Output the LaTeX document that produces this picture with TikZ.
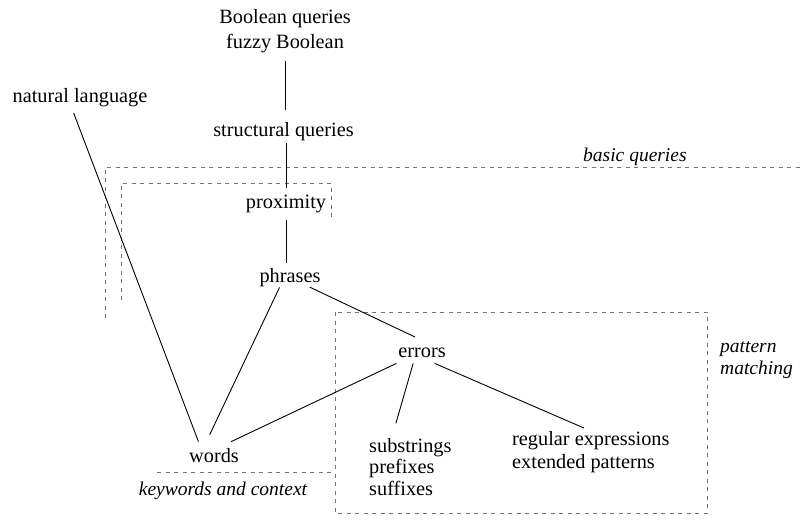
\documentclass[tikz,border=0pt]{standalone}
\usepackage{fontspec}
\setmainfont{Liberation Serif}
\begin{document}
\begin{tikzpicture}[x=1pt,y=-1pt,
  lbl/.style={inner sep=0pt, font=\fontsize{20.3}{24}\selectfont},
  itl/.style={inner sep=0pt, font=\fontsize{19.5}{22.5}\selectfont\itshape},
  edge/.style={line width=0.9pt, black},
  dbox/.style={draw=black!55, line width=0.8pt, dash pattern=on 4pt off 4.5pt}]
\useasboundingbox (0,0) rectangle (802,531);

% dashed regions
\draw[dbox] (105,318) -- (105,167) -- (802,167);
\draw[dbox] (121,300) -- (121,183) -- (331,183) -- (331,217);
\draw[dbox] (157,472) -- (335,472);
\draw[dbox] (335,312) rectangle (707,513);

% nodes
\node[lbl, anchor=north, align=center, font=\fontsize{20.3}{25}\selectfont] (bool) at (285,9) {Boolean queries\\fuzzy Boolean};
\node[lbl, anchor=base] (nat) at (80,102) {natural language};
\node[lbl, anchor=base] (struct) at (283.5,136) {structural queries};
\node[lbl, anchor=base] (prox) at (286,208) {proximity};
\node[lbl, anchor=base] (phr) at (290,282) {phrases};
\node[lbl, anchor=base] (err) at (422,357.5) {errors};
\node[lbl, anchor=base] (words) at (214,462) {words};
\node[lbl, anchor=north west, align=left, font=\fontsize{20.3}{21.5}\selectfont] (sub) at (369,438) {substrings\\prefixes\\suffixes};
\node[lbl, anchor=north west, align=left, font=\fontsize{20.3}{23}\selectfont] (regex) at (512,431) {regular expressions\\extended patterns};

% region labels
\node[itl, anchor=base west] (bq) at (583,161) {basic queries};
\node[itl, anchor=base] (kc) at (223,495) {keywords and context};
\node[itl, anchor=north west, align=left] (pm) at (720,341) {pattern\\matching};

% connectors
\draw[edge, shorten <=7.7pt, shorten >=12pt] (bool.south) -- (bool.south |- struct.north);
\draw[edge, shorten <=2.6pt, shorten >=6pt] (prox.north |- struct.south) -- (prox.north);
\draw[edge, shorten <=7.6pt, shorten >=5pt] (prox.south) -- (prox.south |- phr.north);
\draw[edge, shorten <=7pt, shorten >=6.5pt] (nat.227) -- (words.151);
\draw[edge, shorten <=1pt, shorten >=14.4pt] (phr.223) -- (words.145);
\draw[edge, shorten <=1.4pt, shorten >=25pt] (phr.-27) -- (err.18);
\draw[edge, shorten <=12.9pt, shorten >=14.3pt] (err.200) -- (words.60);
\draw[edge, shorten <=5.7pt, shorten >=15.4pt] (err.215) -- (sub.123);
\draw[edge, shorten <=13.7pt, shorten >=7.5pt] (err.south) -- (regex.north);
\end{tikzpicture}
\end{document}
